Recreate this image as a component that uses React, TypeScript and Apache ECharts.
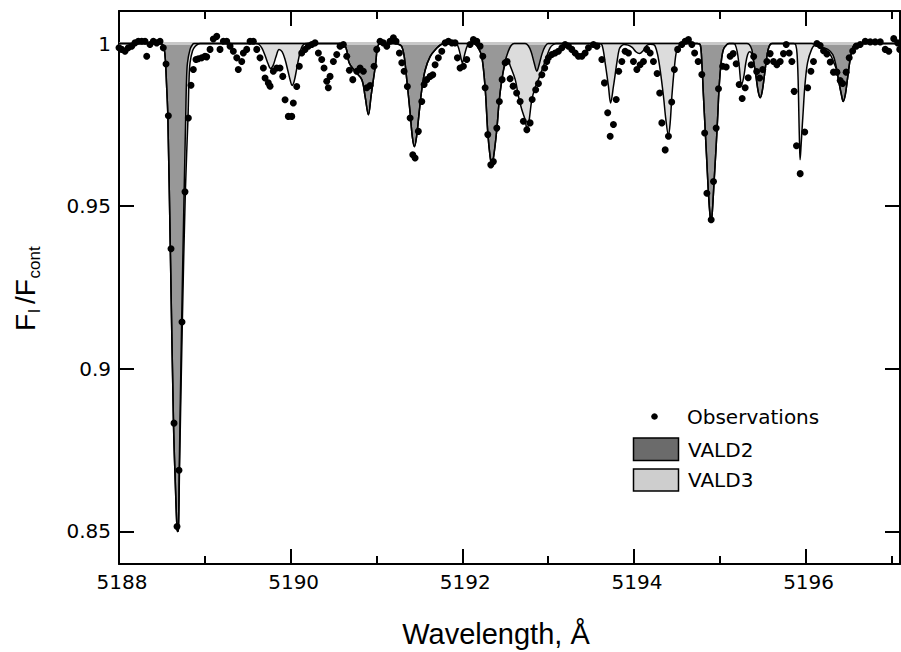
import React, { useEffect, useRef } from 'react';
import * as echarts from 'echarts';

const xMajorTicks = [5188, 5190, 5192, 5194, 5196];
const xMinorTicks = [5189, 5191, 5193, 5195, 5197];
const yTicks = [0.85, 0.9, 0.95, 1];
const legendLabels = ['Observations', 'VALD2', 'VALD3'];

// Observed spectrum [wavelength, normalized flux]
const observations: [number, number][] = [
  [5188.000,0.9987],[5188.031,0.9982],[5188.070,0.9976],[5188.108,0.9987],[5188.148,0.9992],
  [5188.186,1.0002],[5188.225,1.0007],[5188.265,1.0007],[5188.303,1.0007],[5188.323,0.9961],
  [5188.361,0.9997],[5188.400,1.0007],[5188.439,1.0002],[5188.478,1.0007],[5188.516,0.9987],
  [5188.548,0.9937],[5188.575,0.9778],[5188.606,0.9369],[5188.641,0.8833],[5188.676,0.8515],
  [5188.699,0.8688],[5188.734,0.9144],[5188.769,0.9544],[5188.808,0.9771],[5188.839,0.9872],
  [5188.866,0.9920],[5188.897,0.9951],[5188.924,0.9953],[5188.964,0.9956],[5189.002,0.9961],
  [5189.022,0.9959],[5189.061,0.9982],[5189.099,1.0014],[5189.139,1.0022],[5189.177,0.9982],
  [5189.216,1.0007],[5189.255,1.0007],[5189.294,0.9992],[5189.332,0.9976],[5189.372,0.9956],
  [5189.390,0.9920],[5189.430,0.9945],[5189.449,0.9971],[5189.488,0.9982],[5189.527,1.0007],
  [5189.565,1.0007],[5189.605,0.9982],[5189.643,0.9956],[5189.682,0.9925],[5189.702,0.9894],
  [5189.740,0.9879],[5189.760,0.9869],[5189.798,0.9915],[5189.838,0.9925],[5189.876,0.9925],
  [5189.908,0.9899],[5189.935,0.9827],[5189.973,0.9776],[5190.013,0.9776],[5190.031,0.9817],
  [5190.071,0.9868],[5190.101,0.9930],[5190.129,0.9971],[5190.168,0.9982],[5190.206,0.9992],
  [5190.246,0.9997],[5190.284,1.0002],[5190.323,0.9971],[5190.362,0.9951],[5190.389,0.9925],
  [5190.421,0.9884],[5190.439,0.9864],[5190.459,0.9899],[5190.498,0.9945],[5190.537,0.9966],
  [5190.576,0.9992],[5190.614,0.9997],[5190.654,0.9961],[5190.684,0.9918],[5190.724,0.9889],
  [5190.770,0.9915],[5190.809,0.9925],[5190.847,0.9915],[5190.887,0.9864],[5190.926,0.9871],
  [5190.972,0.9930],[5191.003,0.9982],[5191.042,1.0007],[5191.080,1.0002],[5191.120,0.9992],
  [5191.158,1.0007],[5191.197,1.0018],[5191.228,1.0007],[5191.267,0.9971],[5191.295,0.9941],
  [5191.322,0.9915],[5191.360,0.9868],[5191.392,0.9771],[5191.423,0.9658],[5191.450,0.9648],
  [5191.488,0.9730],[5191.528,0.9822],[5191.555,0.9874],[5191.586,0.9889],[5191.625,0.9899],
  [5191.656,0.9904],[5191.683,0.9935],[5191.721,0.9956],[5191.761,0.9976],[5191.800,1.0002],
  [5191.838,1.0007],[5191.878,1.0002],[5191.916,1.0002],[5191.943,0.9956],[5191.974,0.9925],
  [5192.013,0.9930],[5192.052,0.9951],[5192.091,0.9997],[5192.129,1.0012],[5192.169,1.0007],
  [5192.207,0.9992],[5192.239,0.9961],[5192.266,0.9864],[5192.297,0.9720],[5192.332,0.9627],
  [5192.362,0.9637],[5192.402,0.9740],[5192.432,0.9822],[5192.464,0.9889],[5192.499,0.9941],
  [5192.522,0.9945],[5192.557,0.9892],[5192.592,0.9869],[5192.633,0.9848],[5192.674,0.9822],
  [5192.712,0.9761],[5192.752,0.9735],[5192.790,0.9756],[5192.814,0.9828],[5192.855,0.9858],
  [5192.887,0.9877],[5192.927,0.9904],[5192.960,0.9925],[5192.985,0.9945],[5193.003,0.9956],
  [5193.043,0.9966],[5193.082,0.9971],[5193.120,0.9976],[5193.160,0.9987],[5193.198,0.9997],
  [5193.237,0.9992],[5193.276,0.9982],[5193.315,0.9971],[5193.353,0.9961],[5193.393,0.9961],
  [5193.431,0.9971],[5193.470,0.9987],[5193.528,0.9997],[5193.568,0.9992],[5193.626,0.9951],
  [5193.656,0.9879],[5193.694,0.9787],[5193.723,0.9715],[5193.761,0.9751],[5193.793,0.9828],
  [5193.822,0.9915],[5193.859,0.9945],[5193.897,0.9976],[5193.936,0.9971],[5193.994,0.9945],
  [5194.034,0.9920],[5194.072,0.9935],[5194.111,0.9945],[5194.150,0.9982],[5194.189,0.9971],
  [5194.227,0.9945],[5194.270,0.9908],[5194.300,0.9848],[5194.325,0.9756],[5194.364,0.9673],
  [5194.402,0.9715],[5194.440,0.9820],[5194.471,0.9920],[5194.509,0.9982],[5194.558,0.9997],
  [5194.597,1.0007],[5194.635,1.0012],[5194.675,0.9997],[5194.707,0.9971],[5194.748,0.9945],
  [5194.791,0.9905],[5194.824,0.9725],[5194.850,0.9540],[5194.900,0.9458],[5194.927,0.9576],
  [5194.958,0.9740],[5194.985,0.9861],[5195.033,0.9930],[5195.075,0.9928],[5195.121,0.9961],
  [5195.156,0.9969],[5195.191,0.9938],[5195.226,0.9874],[5195.261,0.9831],[5195.296,0.9864],
  [5195.331,0.9895],[5195.366,0.9935],[5195.395,0.9960],[5195.430,0.9914],[5195.465,0.9894],
  [5195.500,0.9920],[5195.549,0.9945],[5195.587,0.9969],[5195.626,0.9945],[5195.665,0.9935],
  [5195.704,0.9945],[5195.742,0.9969],[5195.774,0.9997],[5195.809,0.9971],[5195.840,0.9945],
  [5195.867,0.9853],[5195.894,0.9686],[5195.937,0.9600],[5195.990,0.9728],[5196.024,0.9864],
  [5196.062,0.9915],[5196.092,0.9945],[5196.132,1.0000],[5196.170,0.9994],[5196.209,0.9978],
  [5196.248,0.9968],[5196.287,0.9943],[5196.325,0.9912],[5196.365,0.9912],[5196.403,0.9886],
  [5196.432,0.9877],[5196.473,0.9912],[5196.508,0.9956],[5196.549,0.9977],[5196.590,0.9992],
  [5196.636,0.9997],[5196.695,1.0007],[5196.753,1.0005],[5196.811,1.0005],[5196.870,1.0005],
  [5196.928,0.9982],[5196.969,0.9976],[5197.027,1.0015],[5197.073,1.0002],[5197.097,0.9982],
];

// Synthetic spectrum with VALD3 line list (full model)
const vald3Model: [number, number][] = [
  [5188.000,1],[5188.478,1],[5188.507,0.9997],[5188.524,0.9988],[5188.540,0.9951],
  [5188.554,0.9874],[5188.569,0.9778],[5188.598,0.9368],[5188.635,0.8832],[5188.659,0.8626],
  [5188.676,0.8509],[5188.684,0.8500],[5188.693,0.8509],[5188.705,0.8688],[5188.738,0.9144],
  [5188.773,0.9544],[5188.804,0.9772],[5188.816,0.9889],[5188.828,0.9941],[5188.857,0.9978],
  [5188.886,0.9991],[5188.921,0.9998],[5188.944,1],
  [5189.597,1],[5189.632,0.9997],[5189.667,0.9985],[5189.702,0.9963],[5189.737,0.9938],
  [5189.766,0.9923],[5189.795,0.9932],[5189.830,0.9960],[5189.865,0.9982],[5189.900,0.9975],
  [5189.935,0.9951],[5189.970,0.9914],[5189.999,0.9883],[5190.016,0.9871],[5190.040,0.9883],
  [5190.069,0.9920],[5190.098,0.9960],[5190.127,0.9988],[5190.156,0.9998],[5190.179,1],
  [5190.576,1],[5190.611,0.9998],[5190.634,0.9994],[5190.657,0.9975],[5190.681,0.9941],
  [5190.751,0.9914],[5190.829,0.9889],[5190.867,0.9838],[5190.906,0.9781],[5190.937,0.9838],
  [5190.964,0.9889],[5190.992,0.9941],[5191.007,0.9982],[5191.024,0.9997],[5191.042,1],
  [5191.228,1],[5191.263,0.9997],[5191.295,0.9991],[5191.322,0.9963],[5191.353,0.9889],
  [5191.392,0.9787],[5191.418,0.9713],[5191.442,0.9683],[5191.467,0.9713],[5191.497,0.9787],
  [5191.528,0.9858],[5191.566,0.9917],[5191.625,0.9960],[5191.703,0.9986],[5191.753,0.9997],
  [5191.800,1],
  [5191.916,1],[5191.946,0.9994],[5191.974,0.9969],[5192.001,0.9941],[5192.027,0.9966],
  [5192.056,0.9991],[5192.091,1],
  [5192.126,1],[5192.149,0.9998],[5192.184,0.9988],[5192.227,0.9960],[5192.266,0.9864],
  [5192.297,0.9726],[5192.324,0.9652],[5192.344,0.9627],[5192.365,0.9652],[5192.402,0.9735],
  [5192.429,0.9821],[5192.461,0.9889],[5192.488,0.9926],[5192.517,0.9946],[5192.541,0.9943],
  [5192.558,0.9932],[5192.617,0.9889],[5192.654,0.9838],[5192.693,0.9797],[5192.732,0.9766],
  [5192.752,0.9740],[5192.773,0.9754],[5192.810,0.9827],[5192.848,0.9864],[5192.887,0.9889],
  [5192.945,0.9930],[5192.985,0.9961],[5193.023,0.9987],[5193.062,0.9997],[5193.093,1],
  [5193.594,1],[5193.629,0.9995],[5193.664,0.9941],[5193.703,0.9868],[5193.728,0.9817],
  [5193.761,0.9868],[5193.801,0.9941],[5193.828,0.9982],[5193.851,0.9992],[5193.886,0.9997],
  [5193.932,0.9995],[5193.979,0.9988],[5194.026,0.9974],[5194.064,0.9969],[5194.107,0.9978],
  [5194.148,0.9994],[5194.189,0.9998],[5194.224,0.9997],[5194.247,0.9992],[5194.276,0.9966],
  [5194.305,0.9920],[5194.344,0.9838],[5194.372,0.9766],[5194.402,0.9717],[5194.422,0.9756],
  [5194.442,0.9838],[5194.469,0.9920],[5194.500,0.9982],[5194.538,0.9997],[5194.573,1],
  [5194.737,1],[5194.772,0.9997],[5194.791,0.9941],[5194.810,0.9838],[5194.830,0.9735],
  [5194.850,0.9632],[5194.868,0.9540],[5194.888,0.9468],[5194.900,0.9453],[5194.915,0.9489],
  [5194.935,0.9581],[5194.958,0.9684],[5194.978,0.9787],[5194.993,0.9868],[5195.016,0.9941],
  [5195.043,0.9982],[5195.083,0.9997],[5195.110,1],
  [5195.156,1],[5195.179,0.9997],[5195.203,0.9975],[5195.226,0.9932],[5195.253,0.9874],
  [5195.278,0.9895],[5195.302,0.9938],[5195.325,0.9966],[5195.348,0.9975],[5195.372,0.9969],
  [5195.395,0.9945],[5195.424,0.9895],[5195.448,0.9852],[5195.471,0.9833],[5195.494,0.9852],
  [5195.517,0.9895],[5195.541,0.9945],[5195.564,0.9982],[5195.587,0.9997],[5195.611,1],
  [5195.862,1],[5195.886,0.9995],[5195.901,0.9966],[5195.913,0.9889],[5195.921,0.9787],
  [5195.929,0.9695],[5195.936,0.9643],[5195.948,0.9689],[5195.962,0.9750],[5195.971,0.9787],
  [5195.991,0.9868],[5196.023,0.9941],[5196.070,0.9982],[5196.108,0.9994],[5196.143,0.9992],
  [5196.189,0.9986],[5196.247,0.9978],[5196.294,0.9963],[5196.329,0.9941],[5196.359,0.9920],
  [5196.387,0.9883],[5196.417,0.9843],[5196.438,0.9822],[5196.463,0.9843],[5196.487,0.9889],
  [5196.510,0.9935],[5196.534,0.9972],[5196.555,0.9991],[5196.587,0.9998],[5196.634,1],
  [5197.1,1],
];

// Synthetic spectrum with VALD2 line list
const vald2Model: [number, number][] = [
  [5188.000,1],[5188.478,1],[5188.507,0.9997],[5188.524,0.9988],[5188.540,0.9951],
  [5188.554,0.9874],[5188.569,0.9778],[5188.598,0.9368],[5188.635,0.8832],[5188.659,0.8626],
  [5188.676,0.8509],[5188.684,0.8500],[5188.693,0.8509],[5188.702,0.8688],[5188.730,0.9144],
  [5188.759,0.9544],[5188.777,0.9772],[5188.787,0.9889],[5188.798,0.9941],[5188.828,0.9982],
  [5188.857,0.9997],[5188.874,1],
  [5190.576,1],[5190.611,0.9998],[5190.634,0.9994],[5190.657,0.9975],[5190.681,0.9941],
  [5190.751,0.9914],[5190.829,0.9889],[5190.867,0.9838],[5190.906,0.9781],[5190.937,0.9838],
  [5190.964,0.9889],[5190.992,0.9941],[5191.007,0.9982],[5191.024,0.9997],[5191.042,1],
  [5191.228,1],[5191.263,0.9997],[5191.295,0.9991],[5191.322,0.9963],[5191.353,0.9889],
  [5191.392,0.9787],[5191.418,0.9713],[5191.442,0.9683],[5191.467,0.9713],[5191.497,0.9787],
  [5191.528,0.9858],[5191.566,0.9917],[5191.625,0.9960],[5191.703,0.9986],[5191.753,0.9997],
  [5191.800,1],
  [5192.126,1],[5192.149,0.9998],[5192.184,0.9988],[5192.227,0.9960],[5192.266,0.9864],
  [5192.297,0.9726],[5192.324,0.9652],[5192.344,0.9627],[5192.365,0.9652],[5192.402,0.9735],
  [5192.429,0.9821],[5192.461,0.9889],[5192.499,0.9945],[5192.534,0.9975],[5192.569,0.9994],
  [5192.604,1],
  [5192.732,1],[5192.767,0.9994],[5192.802,0.9975],[5192.837,0.9941],[5192.869,0.9915],
  [5192.895,0.9935],[5192.930,0.9969],[5192.965,0.9991],[5193.000,1],
  [5194.737,1],[5194.772,0.9997],[5194.791,0.9941],[5194.810,0.9838],[5194.830,0.9735],
  [5194.850,0.9632],[5194.868,0.9540],[5194.888,0.9468],[5194.900,0.9453],[5194.915,0.9489],
  [5194.935,0.9581],[5194.958,0.9684],[5194.978,0.9787],[5194.993,0.9868],[5195.016,0.9941],
  [5195.043,0.9982],[5195.083,0.9997],[5195.110,1],
  [5195.315,1],[5195.344,0.9997],[5195.373,0.9982],[5195.395,0.9945],[5195.424,0.9895],
  [5195.448,0.9852],[5195.471,0.9833],[5195.494,0.9852],[5195.517,0.9895],[5195.541,0.9945],
  [5195.564,0.9982],[5195.587,0.9997],[5195.611,1],
  [5196.071,1],[5196.119,0.9995],[5196.189,0.9988],[5196.259,0.9982],[5196.317,0.9966],
  [5196.352,0.9935],[5196.387,0.9883],[5196.417,0.9843],[5196.438,0.9822],[5196.463,0.9843],
  [5196.487,0.9889],[5196.510,0.9935],[5196.534,0.9972],[5196.555,0.9991],[5196.587,0.9998],
  [5196.634,1],[5197.1,1],
];

const X_MIN = 5188;
const X_MAX = 5197.1;
const Y_MIN = 0.84;
const Y_MAX = 1.01;

const TICK_FONT = '"DejaVu Sans", sans-serif';
const TITLE_FONT = '"Liberation Sans", Arial, sans-serif';

export default function App() {
  const ref = useRef<HTMLDivElement>(null);

  useEffect(() => {
    if (!ref.current) return;
    const chart = echarts.init(ref.current, null, { renderer: 'svg' });

    const axisLine = { show: true, lineStyle: { color: '#000', width: 2 } };
    const tickLine = { color: '#000', width: 2 };

    const xBase = {
      type: 'value' as const,
      min: X_MIN,
      max: X_MAX,
      splitLine: { show: false },
      minorTick: { show: false },
    };
    const yBase = {
      type: 'value' as const,
      min: Y_MIN,
      max: Y_MAX,
      splitLine: { show: false },
    };

    const option: any = {
      animation: false,
      backgroundColor: '#fff',
      grid: {
        left: 119,
        right: 1,
        top: 11,
        bottom: 88,
        containLabel: false,
        outerBoundsMode: 'none',
      },
      xAxis: [
        {
          ...xBase,
          position: 'bottom',
          axisLine,
          axisTick: { show: true, inside: true, length: 15, lineStyle: tickLine, customValues: xMajorTicks },
          axisLabel: {
            show: true,
            customValues: xMajorTicks,
            formatter: (v: number) => String(v),
            fontSize: 20,
            fontFamily: TICK_FONT,
            color: '#000',
            margin: 8,
            padding: [0, 0, 0, 6],
          },
        },
        {
          ...xBase,
          position: 'bottom',
          axisLine: { show: false },
          axisTick: { show: true, inside: true, length: 8, lineStyle: tickLine, customValues: xMinorTicks },
          axisLabel: { show: false },
        },
        {
          ...xBase,
          position: 'top',
          axisLine,
          axisTick: { show: true, inside: true, length: 15, lineStyle: tickLine, customValues: xMajorTicks },
          axisLabel: { show: false },
        },
        {
          ...xBase,
          position: 'top',
          axisLine: { show: false },
          axisTick: { show: true, inside: true, length: 8, lineStyle: tickLine, customValues: xMinorTicks },
          axisLabel: { show: false },
        },
      ],
      yAxis: [
        {
          ...yBase,
          position: 'left',
          axisLine,
          axisTick: { show: true, inside: true, length: 15, lineStyle: tickLine, customValues: yTicks },
          axisLabel: {
            show: true,
            customValues: yTicks,
            formatter: (v: number) => String(v),
            fontSize: 20,
            fontFamily: TICK_FONT,
            color: '#000',
            margin: 8,
          },
        },
        {
          ...yBase,
          position: 'right',
          axisLine,
          axisTick: { show: true, inside: true, length: 15, lineStyle: tickLine, customValues: yTicks },
          axisLabel: { show: false },
        },
      ],
      series: [
        {
          type: 'line',
          name: 'VALD3 area',
          data: vald3Model,
          smooth: 0.35,
          symbol: 'none',
          lineStyle: { width: 0, opacity: 0 },
          areaStyle: { color: '#dcdcdc', opacity: 1, origin: 1 },
          z: 1,
          silent: true,
        },
        {
          type: 'line',
          name: 'VALD2 area',
          data: vald2Model,
          smooth: 0.35,
          symbol: 'none',
          lineStyle: { width: 0, opacity: 0 },
          areaStyle: { color: '#989898', opacity: 1, origin: 1 },
          z: 2,
          silent: true,
        },
        {
          type: 'line',
          name: 'continuum',
          data: [[X_MIN, 1], [X_MAX, 1]],
          symbol: 'none',
          lineStyle: { color: '#c8c8c8', width: 3 },
          z: 3,
          silent: true,
        },
        {
          type: 'line',
          name: 'VALD3',
          data: vald3Model,
          smooth: 0.35,
          symbol: 'none',
          lineStyle: { color: '#000', width: 1.5 },
          z: 4,
          silent: true,
        },
        {
          type: 'line',
          name: 'VALD2',
          data: vald2Model,
          smooth: 0.35,
          symbol: 'none',
          lineStyle: { color: '#000', width: 1.5 },
          z: 5,
          silent: true,
        },
        {
          type: 'scatter',
          name: 'Observations',
          data: observations,
          symbol: 'circle',
          symbolSize: 7,
          itemStyle: { color: '#000', opacity: 1 },
          z: 6,
          silent: true,
        },
      ],
      graphic: [
        {
          type: 'group',
          x: 25,
          y: 290,
          rotation: Math.PI / 2,
          children: [
            { type: 'text', x: -41, y: 0, style: { text: 'F', font: `28px ${TITLE_FONT}`, fill: '#000', align: 'left', textAlign: 'left', verticalAlign: 'middle', textVerticalAlign: 'middle' } },
            { type: 'text', x: -23, y: 9, style: { text: 'l', font: `17px ${TITLE_FONT}`, fill: '#000', align: 'left', textAlign: 'left', verticalAlign: 'middle', textVerticalAlign: 'middle' } },
            { type: 'text', x: -14, y: 0, style: { text: '/F', font: `28px ${TITLE_FONT}`, fill: '#000', align: 'left', textAlign: 'left', verticalAlign: 'middle', textVerticalAlign: 'middle' } },
            { type: 'text', x: 11.5, y: 9, style: { text: 'cont', font: `17px ${TITLE_FONT}`, fill: '#000', align: 'left', textAlign: 'left', verticalAlign: 'middle', textVerticalAlign: 'middle' } },
          ],
        },
        {
          type: 'text',
          x: 496,
          y: 634,
          style: { text: 'Wavelength, Å', font: `29px ${TITLE_FONT}`, fill: '#000', align: 'center', textAlign: 'center', verticalAlign: 'middle', textVerticalAlign: 'middle' },
        },
        { type: 'circle', shape: { cx: 654.5, cy: 416.5, r: 3.3 }, style: { fill: '#000' } },
        {
          type: 'text', x: 687, y: 416.5,
          style: { text: legendLabels[0], font: `20px ${TICK_FONT}`, fill: '#000', align: 'left', textAlign: 'left', verticalAlign: 'middle', textVerticalAlign: 'middle' },
        },
        { type: 'rect', shape: { x: 633.5, y: 438, width: 45, height: 22.5 }, style: { fill: '#6b6b6b', stroke: '#000', lineWidth: 1.5 } },
        {
          type: 'text', x: 688, y: 450,
          style: { text: legendLabels[1], font: `20px ${TICK_FONT}`, fill: '#000', align: 'left', textAlign: 'left', verticalAlign: 'middle', textVerticalAlign: 'middle' },
        },
        { type: 'rect', shape: { x: 633.5, y: 469, width: 45, height: 22 }, style: { fill: '#cecece', stroke: '#000', lineWidth: 1.5 } },
        {
          type: 'text', x: 688, y: 480,
          style: { text: legendLabels[2], font: `20px ${TICK_FONT}`, fill: '#000', align: 'left', textAlign: 'left', verticalAlign: 'middle', textVerticalAlign: 'middle' },
        },
      ],
    };

    chart.setOption(option);
    return () => {
      chart.dispose();
    };
  }, []);

  return (
    <div
      ref={ref}
      style={{ position: 'fixed', left: 0, top: 0, width: 901, height: 652, background: '#fff' }}
    />
  );
}
